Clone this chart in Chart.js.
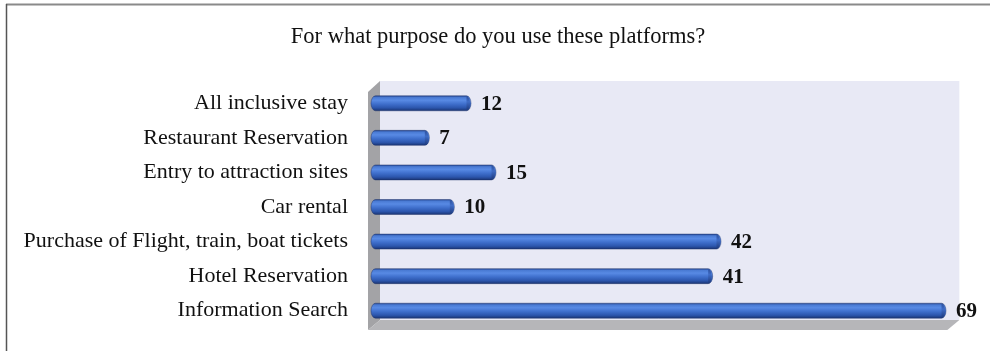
<!DOCTYPE html>
<html>
<head>
<meta charset="utf-8">
<script src="https://cdn.jsdelivr.net/npm/chart.js@4/dist/chart.umd.min.js"></script>
<style>
html,body{margin:0;padding:0;background:#fff;}
#wrap{width:996px;height:351px;position:relative;}
</style>
</head>
<body>
<div id="wrap"><canvas id="c" width="996" height="351"></canvas></div>
<script>
const chartTitle = "For what purpose do you use these platforms?";
const categories = [
  "All inclusive stay",
  "Restaurant Reservation",
  "Entry to attraction sites",
  "Car rental",
  "Purchase of Flight, train, boat tickets",
  "Hotel Reservation",
  "Information Search"
];
const values = [12, 7, 15, 10, 42, 41, 69];
const axisMin = 0;
const axisMax = 75;
const wallMax = 70;

const decor = {
  id: 'decor',
  beforeDraw(chart) {
    const ctx = chart.ctx;
    ctx.save();
    ctx.fillStyle = '#ffffff';
    ctx.fillRect(0, 0, chart.width, chart.height);
    ctx.strokeStyle = '#8a8a8a';
    ctx.lineWidth = 2;
    ctx.beginPath();
    ctx.moveTo(6, 4.5); ctx.lineTo(990, 4.5);
    ctx.stroke();
    ctx.strokeStyle = '#555555';
    ctx.lineWidth = 1.5;
    ctx.beginPath();
    ctx.moveTo(6.5, 4); ctx.lineTo(6.5, chart.height);
    ctx.stroke();
    ctx.restore();
  },
  beforeDatasetsDraw(chart) {
    const ctx = chart.ctx;
    const a = chart.chartArea;
    const xs = chart.scales.x;
    const dx = 12, dy = 7;
    const right = xs.getPixelForValue(wallMax);
    const fx0 = a.left - 3, fy0 = a.top + 2, fx1 = right - 7, fy1 = a.bottom + 2;
    const bx0 = fx0 + dx, by0 = fy0 - dy, bx1 = fx1 + dx, by1 = fy1 - dy - 3;
    ctx.save();
    ctx.fillStyle = '#e8e9f5';
    ctx.fillRect(bx0, by0, bx1 - bx0, by1 - by0);
    ctx.fillStyle = '#a3a3a6';
    ctx.beginPath();
    ctx.moveTo(fx0, fy0 + 4); ctx.lineTo(bx0, by0); ctx.lineTo(bx0, by1); ctx.lineTo(fx0, fy1);
    ctx.closePath(); ctx.fill();
    ctx.fillStyle = '#b6b6b9';
    ctx.beginPath();
    ctx.moveTo(fx0, fy1); ctx.lineTo(bx0, by1); ctx.lineTo(bx1, by1); ctx.lineTo(fx1, fy1);
    ctx.closePath(); ctx.fill();
    ctx.restore();
  },
  afterDatasetsDraw(chart) {
    const ctx = chart.ctx;
    const meta = chart.getDatasetMeta(0);
    ctx.save();
    meta.data.forEach((el, i) => {
      const p = el.getProps(['x', 'y', 'base', 'height'], true);
      const h = p.height, y0 = p.y - h / 2;
      const rx = 4.5, ry = h / 2;
      const x0 = p.base, x1 = p.x;
      const g = ctx.createLinearGradient(0, y0, 0, y0 + h);
      g.addColorStop(0, '#284a96');
      g.addColorStop(0.12, '#4a7bd4');
      g.addColorStop(0.3, '#588ae4');
      g.addColorStop(0.55, '#3f6fcc');
      g.addColorStop(0.8, '#2c56ad');
      g.addColorStop(1, '#1b3574');
      ctx.fillStyle = g;
      ctx.beginPath();
      ctx.moveTo(x0 + rx, y0);
      ctx.lineTo(x1 - rx, y0);
      ctx.ellipse(x1 - rx, p.y, rx, ry, 0, -Math.PI / 2, Math.PI / 2);
      ctx.lineTo(x0 + rx, y0 + h);
      ctx.ellipse(x0 + rx, p.y, rx, ry, 0, Math.PI / 2, Math.PI * 1.5);
      ctx.closePath();
      ctx.fill();
      ctx.strokeStyle = 'rgba(25,45,100,0.55)';
      ctx.lineWidth = 0.8;
      ctx.stroke();
      const cg = ctx.createLinearGradient(0, y0, 0, y0 + h);
      cg.addColorStop(0, '#2a4d99');
      cg.addColorStop(0.4, '#3f6cc6');
      cg.addColorStop(1, '#1c3778');
      ctx.fillStyle = cg;
      ctx.beginPath();
      ctx.ellipse(x1 - rx, p.y, rx * 0.8, ry * 0.92, 0, -Math.PI / 2, Math.PI / 2);
      ctx.closePath();
      ctx.fill();
      ctx.fillStyle = '#111111';
      ctx.font = 'bold 21px "Liberation Serif", "DejaVu Serif", serif';
      ctx.textAlign = 'left';
      ctx.textBaseline = 'middle';
      ctx.fillText(String(values[i]), x1 + 10, p.y + 1);
    });
    ctx.restore();
  }
};

new Chart(document.getElementById('c'), {
  type: 'bar',
  data: {
    labels: categories,
    datasets: [{
      data: values,
      backgroundColor: 'rgba(0,0,0,0)',
      borderWidth: 0,
      barThickness: 15
    }]
  },
  options: {
    indexAxis: 'y',
    responsive: false,
    animation: false,
    devicePixelRatio: 1,
    layout: { padding: { left: 0, right: 0, top: 0, bottom: 23 } },
    plugins: {
      legend: { display: false },
      tooltip: { enabled: false },
      title: {
        display: true,
        text: chartTitle,
        color: '#111111',
        font: { family: '"Liberation Serif", "DejaVu Serif", serif', size: 22.5, weight: 'normal', lineHeight: 1.2 },
        padding: { top: 24, bottom: 35 }
      }
    },
    scales: {
      x: {
        display: false,
        min: axisMin,
        max: axisMax
      },
      y: {
        grid: { display: false, drawTicks: true, tickLength: 23 },
        border: { display: false },
        ticks: {
          color: '#111111',
          padding: 0,
          font: { family: '"Liberation Serif", "DejaVu Serif", serif', size: 22 }
        },
        afterFit(scale) { scale.width = 371; }
      }
    }
  },
  plugins: [decor]
});
</script>
</body>
</html>
